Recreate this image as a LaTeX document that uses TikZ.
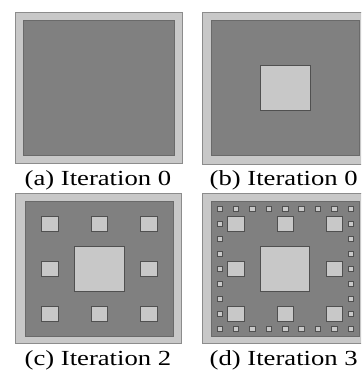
\documentclass[tikz,border=0pt]{standalone}
\usepackage{fontspec}
\setmainfont{Liberation Serif}
\usepackage{graphicx}
\definecolor{lite}{HTML}{C8C8C8}
\definecolor{drk}{HTML}{808080}
\definecolor{rim}{HTML}{8C8C8C}
\definecolor{sqedge}{HTML}{505050}
\newcommand{\mkhole}[8]{% #1 x0, #2 y0, #3 w, #4 h, #5 N, #6 i, #7 j, #8 style
  \draw[#8] ({#1+#3*(3*#6+1)/(3*#5)},{#2+#4*(3*#7+1)/(3*#5)}) rectangle ({#1+#3*(3*#6+2)/(3*#5)},{#2+#4*(3*#7+2)/(3*#5)});}
\begin{document}
\begin{tikzpicture}[x=1pt,y=-1pt,
  outerbox/.style={fill=lite,draw=rim,line width=0.8pt},
  field/.style={fill=drk,draw=sqedge!85,line width=0.6pt},
  hole/.style={fill=lite,draw=sqedge,line width=0.6pt},
  tinyhole/.style={fill=lite,draw=sqedge,line width=0.45pt},
  lbl/.style={anchor=base,inner sep=0pt,font=\fontsize{21.5}{23}\selectfont}]
\useasboundingbox (0,0) rectangle (361,371);
\begin{scope}
\clip (0,0) rectangle (361,371);
% panel a
\draw[outerbox] (15,12.3) rectangle (182.3,163.5);
\draw[field] (23.3,20) rectangle (174.3,155.7);
% panel b
\draw[outerbox] (202.5,12.3) rectangle (368,164);
\draw[field] (211,20) rectangle (359.3,155.7);
\mkhole{211}{20}{148.3}{135.7}{1}{0}{0}{hole}
% panel c
\draw[outerbox] (15.7,193.3) rectangle (181.5,343.3);
\draw[field] (25,201.7) rectangle (173.3,336);
\mkhole{25}{201.7}{148.3}{134.3}{1}{0}{0}{hole}
\foreach \i/\j in {0/0,1/0,2/0,0/1,2/1,0/2,1/2,2/2}
  {\mkhole{25}{201.7}{148.3}{134.3}{3}{\i}{\j}{hole}}
% panel d
\draw[outerbox] (202.7,193.3) rectangle (368,343.3);
\draw[field] (211.3,201) rectangle (358.8,336.5);
\mkhole{211.3}{201}{147.5}{135.5}{1}{0}{0}{hole}
\foreach \i/\j in {0/0,1/0,2/0,0/1,2/1,0/2,1/2,2/2}
  {\mkhole{211.3}{201}{147.5}{135.5}{3}{\i}{\j}{hole}}
\foreach \k in {0,...,8}
  {\mkhole{211.3}{201}{147.5}{135.5}{9}{\k}{0}{tinyhole}
   \mkhole{211.3}{201}{147.5}{135.5}{9}{\k}{8}{tinyhole}}
\foreach \k in {1,...,7}
  {\mkhole{211.3}{201}{147.5}{135.5}{9}{0}{\k}{tinyhole}
   \mkhole{211.3}{201}{147.5}{135.5}{9}{8}{\k}{tinyhole}}
\end{scope}
% captions
\node[lbl] (la) at (97.9,185) {\scalebox{1.24}[1]{(a) Iteration 0}};
\node[lbl] (lb) at (283.7,185) {\scalebox{1.24}[1]{(b) Iteration 0}};
\node[lbl] (lc) at (97.9,365.7) {\scalebox{1.24}[1]{(c) Iteration 2}};
\node[lbl] (ld) at (283.7,365.7) {\scalebox{1.24}[1]{(d) Iteration 3}};
\end{tikzpicture}
\end{document}
